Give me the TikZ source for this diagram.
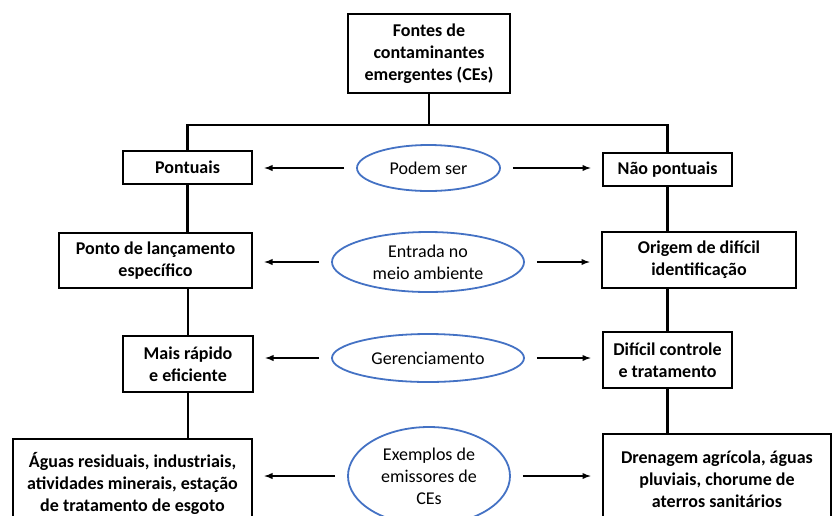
\documentclass[tikz,border=0pt]{standalone}
\usepackage{fontspec}
\setmainfont{Carlito}
\usepackage{xcolor}
\usepackage{tikz}
\usetikzlibrary{positioning, calc, arrows, shapes}
\definecolor{ellblue}{RGB}{68,114,196}

\begin{document}
\begin{tikzpicture}[x=1pt, y=-1pt]
		\tikzstyle{box}=[draw=black, line width=2.6pt, inner sep=0pt, align=center, font=\fontsize{18}{22}\selectfont\bfseries]
		\tikzstyle{ell}=[ellipse, draw=ellblue, line width=1.8pt, inner sep=0pt, align=center, font=\fontsize{18}{22}\selectfont]
		\tikzstyle{link}=[draw=black, line width=2.6pt]
		\tikzstyle{arr}=[draw=black, line width=1.8pt, -latex, shorten <=12pt, shorten >=11pt]
		%%
		\useasboundingbox (0,0) rectangle (832,515);
		\clip (0,0) rectangle (832,515);
		%%
		\node (b01) at (429,53.5) [box, minimum width=162pt, minimum height=79pt] {Fontes de\\contaminantes\\emergentes (CEs)};
		\coordinate (fork) at (429,125);
		
		\node (b11) at (187.5,167.5) [box, minimum width=129pt, minimum height=33pt] {Pontuais};
		\node (e1) at (428.5,168) [ell, minimum width=143pt, minimum height=46pt] {Podem ser};
		\node (b12) at (667.5,169.5) [box, minimum width=129pt, minimum height=33pt] {Não pontuais};
		
		\node (b21) at (155.5,260.5) [box, minimum width=193pt, minimum height=55pt] {Ponto de lançamento\\específico};
		\node (e2) at (428,262) [ell, minimum width=192pt, minimum height=60pt] {Entrada no\\meio ambiente};
		\node (b22) at (699,260) [box, minimum width=194pt, minimum height=56pt] {Origem de difícil\\identificação};
		
		\node (b31) at (188,364) [box, minimum width=130pt, minimum height=56pt] {Mais rápido\\e eficiente};
		\node (e3) at (428,358) [ell, minimum width=192pt, minimum height=48pt] {Gerenciamento};
		\node (b32) at (667.5,360) [box, minimum width=129pt, minimum height=56pt] {Difícil controle\\e tratamento};
		
		\node (b41) at (132.5,483) [box, minimum width=239pt, minimum height=88pt] {Águas residuais, industriais,\\atividades minerais, estação\\de tratamento de esgoto};
		\node (e4) at (429,476) [ell, minimum width=162pt, minimum height=98pt] {Exemplos de\\emissores de\\CEs};
		\node (b42) at (717,479) [box, minimum width=228pt, minimum height=90pt] {Drenagem agrícola, águas\\pluviais, chorume de\\aterros sanitários};
		
		\draw [link] (b01.south) -- (fork);
		\draw [link] (b11.north) |- (fork) -| (b12.north);
		
		\draw [link] (b11.south) -- (b11.south |- b21.north);
		\draw [link] (b31.north) -- (b31.north |- b21.south);
		\draw [link] (b31.south) -- (b31.south |- b41.north);
		\draw [link] (b12.south) -- (b12.south |- b22.north);
		\draw [link] (b32.north) -- (b32.north |- b22.south);
		\draw [link] (b32.south) -- (b32.south |- b42.north);
		
		\draw [arr] (e1.west) -- (e1.west -| b11.east);
		\draw [arr] (e1.east) -- (e1.east -| b12.west);
		\draw [arr] (e2.west) -- (e2.west -| b21.east);
		\draw [arr] (e2.east) -- (e2.east -| b22.west);
		\draw [arr] (e3.west) -- (e3.west -| b31.east);
		\draw [arr] (e3.east) -- (e3.east -| b32.west);
		\draw [arr] (e4.west) -- (e4.west -| b41.east);
		\draw [arr] (e4.east) -- (e4.east -| b42.west);
		\end{tikzpicture}
\end{document}
